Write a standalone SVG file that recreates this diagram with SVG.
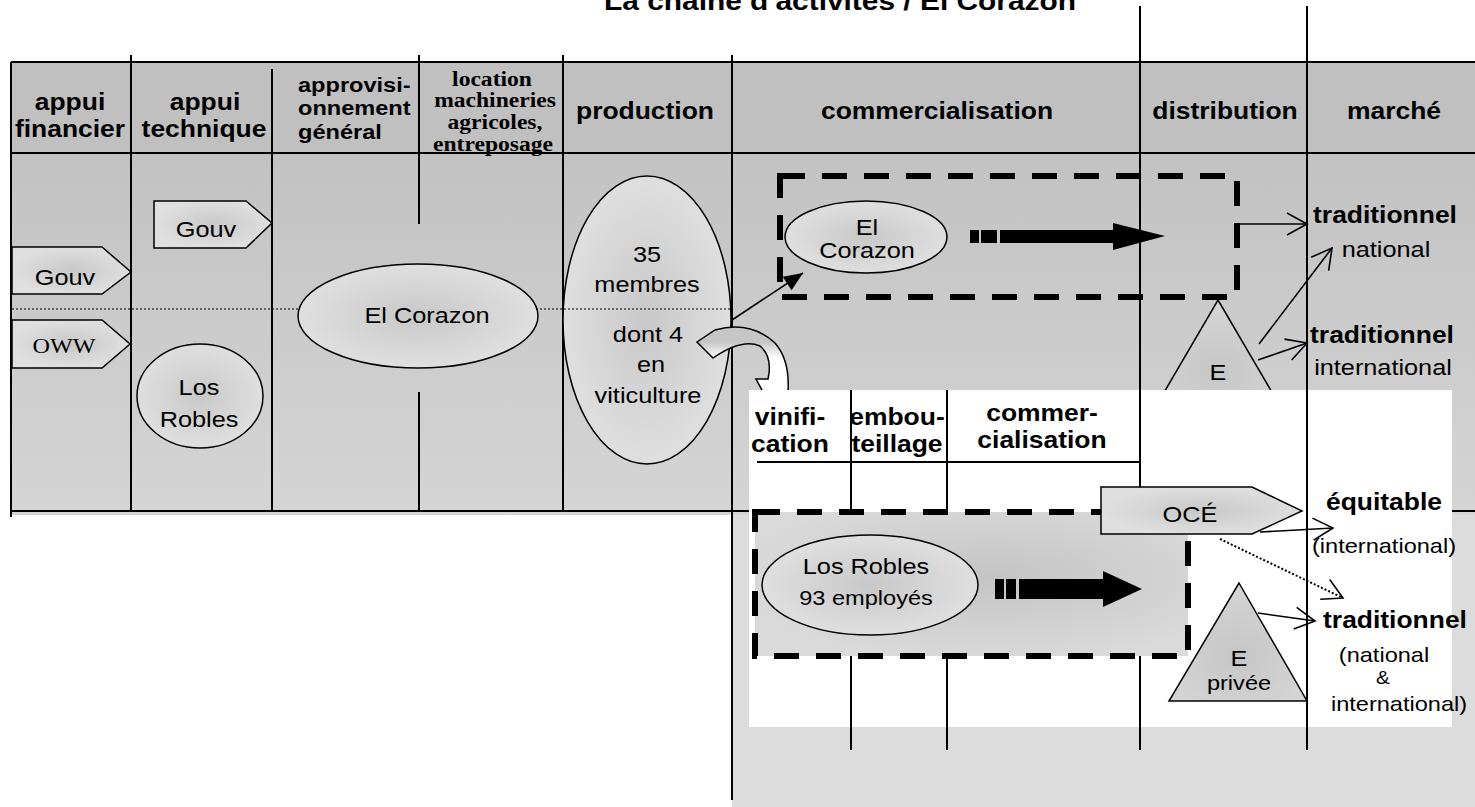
<svg xmlns="http://www.w3.org/2000/svg" width="1475" height="807" viewBox="0 0 1475 807">
<style>
.h{font-family:"Liberation Sans",Arial,sans-serif;font-weight:bold;font-size:23px;text-anchor:middle;fill:#000}
.hl{font-family:"Liberation Sans",Arial,sans-serif;font-weight:bold;font-size:20.5px;text-anchor:start;fill:#000}
.hs{font-family:"Liberation Serif","Times New Roman",serif;font-weight:bold;font-size:20.5px;text-anchor:middle;fill:#000}
.t{font-family:"Liberation Sans",Arial,sans-serif;font-size:22px;text-anchor:middle;fill:#000}
.ts{font-family:"Liberation Serif","Times New Roman",serif;font-size:21px;text-anchor:middle;fill:#000}
.sm{font-family:"Liberation Sans",Arial,sans-serif;font-size:20.5px;text-anchor:middle;fill:#000}
.amp{font-family:"Liberation Sans",Arial,sans-serif;font-size:18px;text-anchor:middle;fill:#000}
.tri{font-family:"Liberation Sans",Arial,sans-serif;font-size:20.5px;text-anchor:middle;fill:#000}
.ttl{font-family:"Liberation Sans",Arial,sans-serif;font-weight:bold;font-size:26px;text-anchor:middle;fill:#000}
.ln{stroke:#000;stroke-width:2;fill:none}
.shape{stroke:#000;stroke-width:1.5}
.dash{fill:none;stroke:#000;stroke-width:6;stroke-dasharray:25 17}
.con{fill:none;stroke:#000;stroke-width:1.6}
</style>
<defs>
<linearGradient id="gBody" x1="0" y1="0" x2="0" y2="1"><stop offset="0" stop-color="#c2c2c2"/><stop offset="1" stop-color="#d5d5d5"/></linearGradient>
<radialGradient id="gNode" cx="50%" cy="50%" r="50%"><stop offset="0" stop-color="#c8c8c8"/><stop offset="1" stop-color="#dfdfdf"/></radialGradient>
<radialGradient id="gTri" cx="50%" cy="60%" r="55%"><stop offset="0" stop-color="#c6c6c6"/><stop offset="1" stop-color="#d4d4d4"/></radialGradient>
<radialGradient id="gBox" cx="55%" cy="45%" r="60%"><stop offset="0" stop-color="#c4c4c4"/><stop offset="1" stop-color="#dadada"/></radialGradient>
<linearGradient id="gCurve" gradientUnits="userSpaceOnUse" x1="0" y1="342" x2="0" y2="358"><stop offset="0" stop-color="#c6c6c6"/><stop offset="1" stop-color="#ffffff"/></linearGradient>
<clipPath id="abovePanel"><rect x="0" y="0" width="1475" height="390"/></clipPath>
<marker id="open" markerUnits="userSpaceOnUse" markerWidth="26" markerHeight="28" viewBox="-23 -14 26 28" refX="0" refY="0" orient="auto"><path d="M-20,-11 L0,0 L-20,11" fill="none" stroke="#000" stroke-width="1.6"/></marker>
<marker id="solid" markerUnits="userSpaceOnUse" markerWidth="22" markerHeight="20" viewBox="-20 -10 22 20" refX="0" refY="0" orient="auto"><path d="M-19,-8 L0,0 L-19,8 Z" fill="#000"/></marker>
</defs>

<g id="background">
<rect x="732" y="511" width="743" height="296" fill="#dcdcdc"/>
<rect x="11" y="62" width="1464" height="91" fill="#c0c0c0"/>
<rect x="11" y="153" width="1464" height="362" fill="url(#gBody)"/>
<path class="ln" d="M11,62H1475M11,153H1475M11,511H1475M11,62V517M131,55V511M272,69V511M419,55V224M419,392V511M563,55V511M732,55V800"/>
<text class="ttl" transform="translate(840,10) scale(1.15,1)">La chaîne d'activités / El Corazon</text>
<text class="h" transform="translate(70,110) scale(1.15,1)">appui</text>
<text class="h" transform="translate(70,137) scale(1.15,1)">financier</text>
<text class="h" transform="translate(205,110) scale(1.15,1)">appui</text>
<text class="h" transform="translate(204,137) scale(1.15,1)">technique</text>
<text class="hl" transform="translate(298,92) scale(1.15,1)">approvisi-</text>
<text class="hl" transform="translate(298,115) scale(1.15,1)">onnement</text>
<text class="hl" transform="translate(298,139) scale(1.15,1)">général</text>
<text class="hs" transform="translate(492,86) scale(1.15,1)">location</text>
<text class="hs" transform="translate(495,107) scale(1.15,1)">machineries</text>
<text class="hs" transform="translate(495,129) scale(1.15,1)">agricoles,</text>
<text class="hs" transform="translate(493,151) scale(1.15,1)">entreposage</text>
<text class="h" transform="translate(645,119) scale(1.15,1)">production</text>
<text class="h" transform="translate(937,119) scale(1.15,1)">commercialisation</text>
<text class="h" transform="translate(1225,119) scale(1.15,1)">distribution</text>
<text class="h" transform="translate(1394,119) scale(1.15,1)">marché</text>
</g>

<g id="node-gouv-financier">
<polygon class="shape" fill="url(#gNode)" points="12,247 102,247 131,272 102,294 12,294"/>
<text class="t" transform="translate(65,285) scale(1.15,1)">Gouv</text>
</g>
<g id="node-oww">
<polygon class="shape" fill="url(#gNode)" points="12,320 102,320 130,344 102,368 12,368"/>
<text class="ts" transform="translate(64,353) scale(1.15,1)">OWW</text>
</g>
<g id="node-gouv-technique">
<polygon class="shape" fill="url(#gNode)" points="154,201 246,201 272,223 246,248 154,248"/>
<text class="t" transform="translate(206,237) scale(1.15,1)">Gouv</text>
</g>
<g id="node-los-robles-technique">
<ellipse class="shape" fill="url(#gNode)" cx="200" cy="396" rx="63" ry="52"/>
<text class="t" transform="translate(199,395) scale(1.15,1)">Los</text>
<text class="t" transform="translate(199,427) scale(1.15,1)">Robles</text>
</g>
<g id="node-production">
<ellipse class="shape" fill="url(#gNode)" cx="647" cy="320" rx="84" ry="144"/>
<text class="t" transform="translate(647,262) scale(1.15,1)">35</text>
<text class="t" transform="translate(647,292) scale(1.15,1)">membres</text>
<text class="t" transform="translate(648,342) scale(1.15,1)">dont 4</text>
<text class="t" transform="translate(651,372) scale(1.15,1)">en</text>
<text class="t" transform="translate(648,403) scale(1.15,1)">viticulture</text>
</g>
<g id="divider">
<line x1="12" y1="309" x2="731" y2="309" stroke="#000" stroke-width="1.2" stroke-dasharray="2 2"/>
</g>
<g id="node-el-corazon">
<ellipse class="shape" fill="url(#gNode)" cx="418" cy="316" rx="120" ry="52"/>
<text class="t" transform="translate(427,323) scale(1.15,1)">El Corazon</text>
</g>

<g id="node-el-corazon-commerce">
<rect class="dash" x="780" y="176" width="457" height="121"/>
<ellipse class="shape" fill="url(#gNode)" cx="866" cy="237" rx="81" ry="36"/>
<text class="t" transform="translate(867,235) scale(1.15,1)">El</text>
<text class="t" transform="translate(867,258) scale(1.15,1)">Corazon</text>
<rect x="970" y="230" width="9" height="13" fill="#000"/>
<rect x="981" y="230" width="16" height="13" fill="#000"/>
<rect x="1000" y="230" width="115" height="13" fill="#000"/>
<polygon points="1113,223 1165,236 1113,250" fill="#000"/>
</g>

<g id="node-e-distribution">
<polygon class="shape" fill="url(#gTri)" points="1218,300 1287,418 1149,418"/>
<text class="t" transform="translate(1218,380) scale(1.15,1)">E</text>
</g>

<g id="panel">
<rect x="749" y="390" width="703" height="337" fill="#ffffff"/>
<path class="ln" d="M851,390V750M947,390V750M757,462H1140M1140,6V750M1307,6V750"/>
<text class="h" transform="translate(790,425) scale(1.15,1)">vinifi-</text>
<text class="h" transform="translate(790,452) scale(1.15,1)">cation</text>
<text class="h" transform="translate(897,425) scale(1.15,1)">embou-</text>
<text class="h" transform="translate(897,452) scale(1.15,1)">teillage</text>
<text class="h" transform="translate(1042,421) scale(1.15,1)">commer-</text>
<text class="h" transform="translate(1042,448) scale(1.15,1)">cialisation</text>
</g>

<g id="node-los-robles-commerce">
<rect x="755" y="512" width="433" height="144" fill="url(#gBox)"/>
<rect class="dash" x="755" y="512" width="433" height="144"/>
<ellipse class="shape" fill="url(#gNode)" cx="870" cy="585" rx="108" ry="50"/>
<text class="t" transform="translate(866,574) scale(1.15,1)">Los Robles</text>
<text class="sm" transform="translate(866,605) scale(1.15,1)">93 employés</text>
<rect x="995" y="579" width="9" height="20" fill="#000"/>
<rect x="1006" y="579" width="10" height="20" fill="#000"/>
<rect x="1019" y="579" width="86" height="20" fill="#000"/>
<polygon points="1103,571 1142,589 1103,607" fill="#000"/>
</g>

<g id="node-oce">
<polygon class="shape" fill="url(#gNode)" points="1101,487 1252,487 1302,511 1252,534 1101,534"/>
<text class="t" transform="translate(1190,522) scale(1.15,1)">OCÉ</text>
</g>

<g id="node-e-privee">
<polygon class="shape" fill="url(#gTri)" points="1239,583 1307,701 1169,701"/>
<text class="t" transform="translate(1239,666) scale(1.15,1)">E</text>
<text class="tri" transform="translate(1239,690) scale(1.15,1)">privée</text>
</g>

<g id="node-markets">
<text class="h" transform="translate(1385,223) scale(1.15,1)">traditionnel</text>
<text class="t" transform="translate(1386,257) scale(1.15,1)">national</text>
<text class="h" transform="translate(1382,343) scale(1.15,1)">traditionnel</text>
<text class="t" transform="translate(1383,375) scale(1.15,1)">international</text>
<text class="h" transform="translate(1384,510) scale(1.15,1)">équitable</text>
<text class="sm" transform="translate(1384,553) scale(1.15,1)">(international)</text>
<text class="h" transform="translate(1395,628) scale(1.15,1)">traditionnel</text>
<text class="sm" transform="translate(1384,662) scale(1.15,1)">(national</text>
<text class="amp" transform="translate(1383,684) scale(1.15,1)">&amp;</text>
<text class="sm" transform="translate(1399,711) scale(1.15,1)">international)</text>
</g>

<g id="connectors">
<path class="shape" fill="url(#gCurve)" clip-path="url(#abovePanel)" d="M697,342 L715,330 Q750,320 775,343 Q790,360 788,392 L800,392 L776,416 L756,379 L768,379 Q773,357 760,346 Q742,338 713,358 Z"/>
<line class="con" x1="732" y1="320" x2="803" y2="273" marker-end="url(#solid)"/>
<line class="con" x1="1238" y1="224" x2="1307" y2="224" marker-end="url(#open)"/>
<line class="con" x1="1259" y1="344" x2="1332" y2="248" marker-end="url(#open)"/>
<line class="con" x1="1258" y1="360" x2="1307" y2="343" marker-end="url(#open)"/>
<line class="con" x1="1260" y1="532" x2="1333" y2="528" marker-end="url(#open)"/>
<line x1="1220" y1="539" x2="1343" y2="598" stroke="#000" stroke-width="2" stroke-dasharray="2 2" marker-end="url(#open)"/>
<line class="con" x1="1258" y1="613" x2="1315" y2="621" marker-end="url(#open)"/>
</g>
</svg>
